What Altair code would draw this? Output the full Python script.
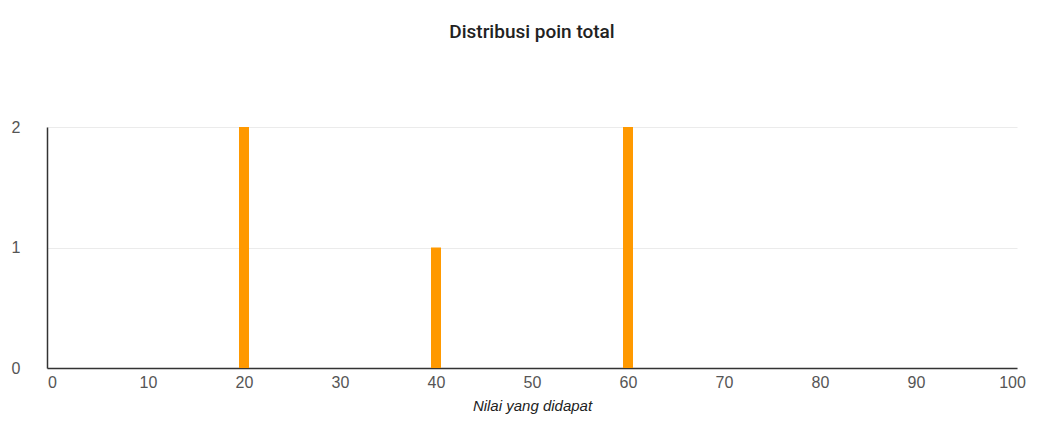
import altair as alt
import pandas as pd

scores = [20, 40, 60]
counts = [2, 1, 2]

df = pd.DataFrame({"score": scores, "count": counts})

bars = alt.Chart(df).mark_bar(color="#ff9900", size=10).encode(
    x=alt.X("score:Q", scale=alt.Scale(domain=[0, 100], nice=False),
            axis=alt.Axis(values=list(range(0, 101, 10)), title="Nilai yang didapat",
                          labelExpr="format(datum.value, 'd')",
                          titleFontStyle="italic", titleFont="Liberation Sans",
                          titleFontWeight="normal", titleFontSize=15, titleColor="#222",
                          titlePadding=8,
                          labelFont="Liberation Sans", labelFontSize=16, labelColor="#555",
                          labelPadding=6, ticks=False, grid=False, labelOverlap=False,
                          domainColor="#333", domainWidth=1.5, labelFlush=False)),
    y=alt.Y("count:Q", scale=alt.Scale(domain=[0, 2], nice=False),
            axis=alt.Axis(values=[0, 1, 2], title=None,
                          labelExpr="format(datum.value, 'd')",
                          labelFont="Liberation Sans", labelOverlap=False,
                          labelFontSize=16, labelColor="#555", labelPadding=36,
                          labelAlign="left", ticks=False, gridColor="#ebebeb",
                          domainColor="#333", domainWidth=1.5)),
)

chart = bars.properties(
    width=970, height=241,
    padding={"left": 39, "top": 119, "right": 12, "bottom": 60},
    autosize=alt.AutoSizeParams(type="none"),
    title=alt.TitleParams("Distribusi poin total", font="Roboto", fontSize=19,
                          fontWeight=500, color="#222", anchor="middle", offset=77),
).configure_view(stroke=None)

chart.save("out.html", embed_options={"renderer": "svg", "actions": False})
